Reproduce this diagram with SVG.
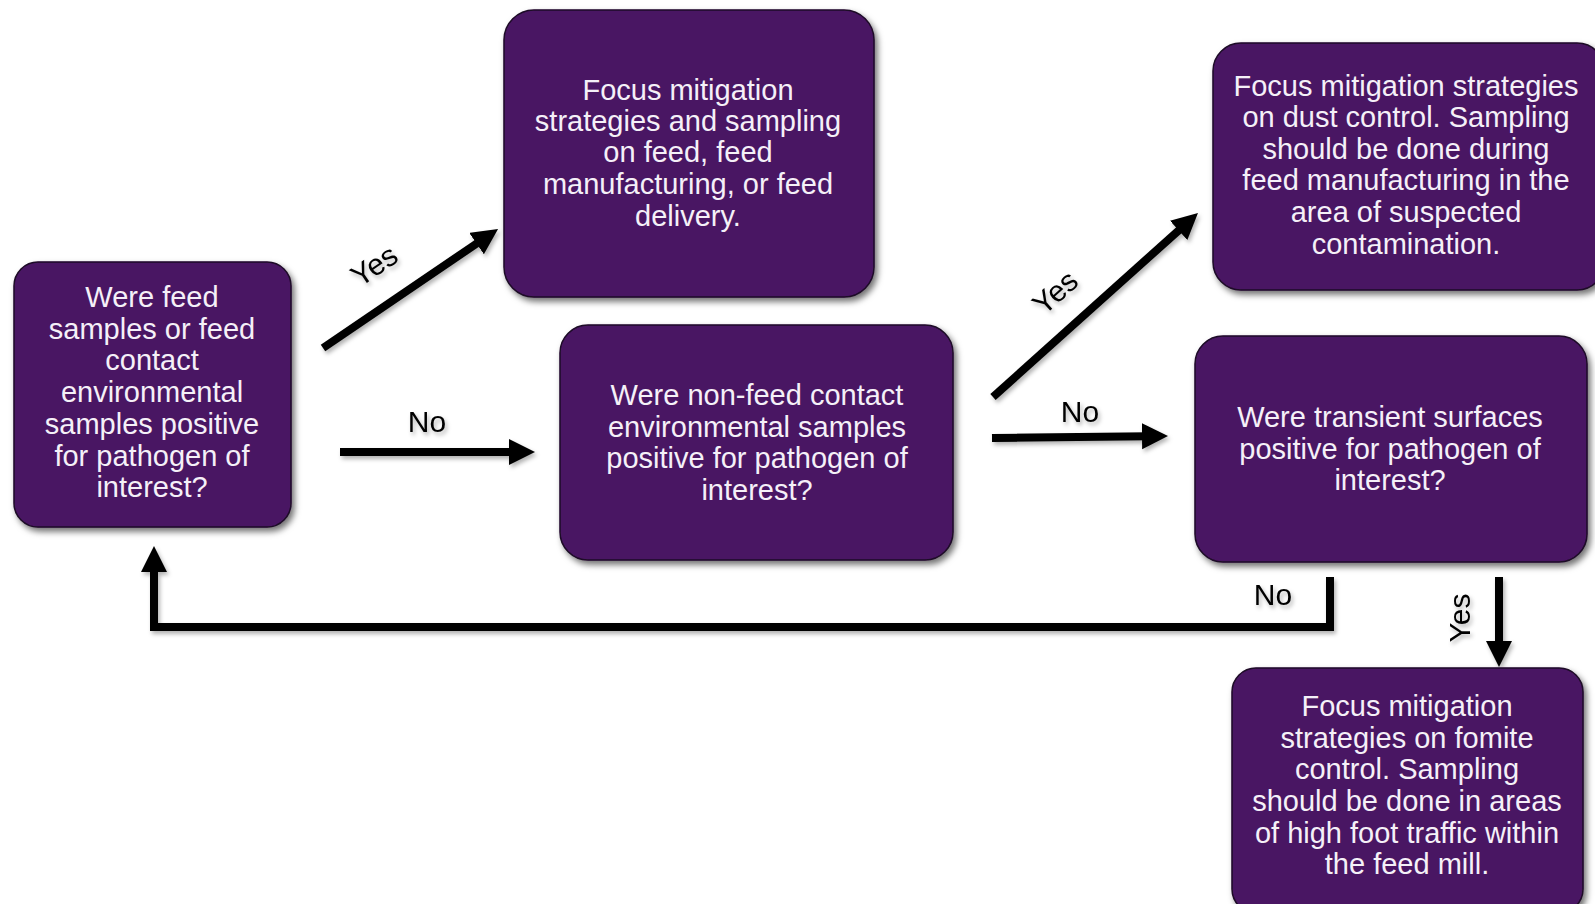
<svg xmlns="http://www.w3.org/2000/svg" width="1595" height="904" viewBox="0 0 1595 904">
<style>
.box{fill:#4a1564;stroke:#1c0826;stroke-width:1.5;filter:url(#sh)}
.t{font-family:"Liberation Sans",Arial,sans-serif;font-size:29px;fill:#f5f0f8;text-anchor:middle}
.lbl{font-family:"Liberation Sans",Arial,sans-serif;font-size:30px;fill:#000;text-anchor:middle}
.c{fill:none;stroke:#000;stroke-width:8;stroke-linejoin:miter}
</style>
<defs>
<filter id="sh" x="-10%" y="-10%" width="125%" height="125%">
<feDropShadow dx="3" dy="4" stdDeviation="3" flood-color="#000" flood-opacity="0.55"/>
</filter>
<filter id="ash" x="-10%" y="-10%" width="125%" height="125%">
<feDropShadow dx="2" dy="3" stdDeviation="2" flood-color="#000" flood-opacity="0.3"/>
</filter>
<marker id="ah" markerUnits="userSpaceOnUse" markerWidth="28" markerHeight="28" refX="6" refY="13" orient="auto">
<path d="M0,0 L26,13 L0,26 z" fill="#000"/>
</marker>
</defs>
<rect width="1595" height="904" fill="#fff"/>
<g id="connectors" filter="url(#ash)">
<path class="c" d="M323,348 L481.5,240.2" marker-end="url(#ah)"/>
<path class="c" d="M340,452 L515,452" marker-end="url(#ah)"/>
<path class="c" d="M993,397 L1183.1,226.4" marker-end="url(#ah)"/>
<path class="c" d="M992,438 L1148,436.2" marker-end="url(#ah)"/>
<path class="c" d="M1330,577 V627 H154 V566" marker-end="url(#ah)"/>
<path class="c" d="M1499,577 V647" marker-end="url(#ah)"/>
<text class="lbl" transform="translate(380,274) rotate(-34.2)">Yes</text>
<text class="lbl" x="427" y="432">No</text>
<text class="lbl" transform="translate(1062,300) rotate(-41.9)">Yes</text>
<text class="lbl" x="1080" y="422">No</text>
<text class="lbl" x="1273" y="605">No</text>
<text class="lbl" transform="translate(1470,618) rotate(-90)">Yes</text>
</g>
<g id="n1">
<rect class="box" x="14" y="262" width="277" height="265" rx="24"/>
<text class="t"><tspan x="152" y="307">Were feed</tspan><tspan x="152" y="339">samples or feed</tspan><tspan x="152" y="370">contact</tspan><tspan x="152" y="402">environmental</tspan><tspan x="152" y="434">samples positive</tspan><tspan x="152" y="466">for pathogen of</tspan><tspan x="152" y="497">interest?</tspan></text>
</g>
<g id="n2">
<rect class="box" x="504" y="10" width="370" height="287" rx="30"/>
<text class="t"><tspan x="688" y="100">Focus mitigation</tspan><tspan x="688" y="131">strategies and sampling</tspan><tspan x="688" y="162">on feed, feed</tspan><tspan x="688" y="194">manufacturing, or feed</tspan><tspan x="688" y="226">delivery.</tspan></text>
</g>
<g id="n3">
<rect class="box" x="560" y="325" width="393" height="235" rx="28"/>
<text class="t"><tspan x="757" y="405">Were non-feed contact</tspan><tspan x="757" y="437">environmental samples</tspan><tspan x="757" y="468">positive for pathogen of</tspan><tspan x="757" y="500">interest?</tspan></text>
</g>
<g id="n4">
<rect class="box" x="1213" y="43" width="392" height="247" rx="28"/>
<text class="t"><tspan x="1406" y="96">Focus mitigation strategies</tspan><tspan x="1406" y="127">on dust control. Sampling</tspan><tspan x="1406" y="159">should be done during</tspan><tspan x="1406" y="190">feed manufacturing in the</tspan><tspan x="1406" y="222">area of suspected</tspan><tspan x="1406" y="254">contamination.</tspan></text>
</g>
<g id="n5">
<rect class="box" x="1195" y="336" width="392" height="226" rx="28"/>
<text class="t"><tspan x="1390" y="427">Were transient surfaces</tspan><tspan x="1390" y="459">positive for pathogen of</tspan><tspan x="1390" y="490">interest?</tspan></text>
</g>
<g id="n6">
<rect class="box" x="1232" y="668" width="351" height="245" rx="24"/>
<text class="t"><tspan x="1407" y="716">Focus mitigation</tspan><tspan x="1407" y="748">strategies on fomite</tspan><tspan x="1407" y="779">control. Sampling</tspan><tspan x="1407" y="811">should be done in areas</tspan><tspan x="1407" y="843">of high foot traffic within</tspan><tspan x="1407" y="874">the feed mill.</tspan></text>
</g>
</svg>
